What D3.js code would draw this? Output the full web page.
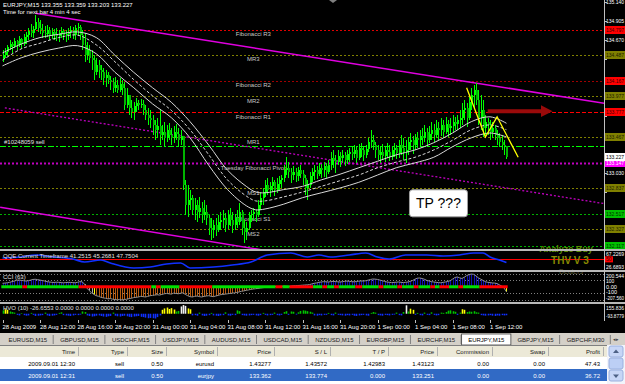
<!DOCTYPE html>
<html>
<head>
<meta charset="utf-8">
<script src="https://cdn.jsdelivr.net/npm/d3@7"></script>
<style>
  body { margin: 0; background: #d4d0c8; }
  svg { display: block; font-family: 'Liberation Sans', Arial, sans-serif; }
</style>
</head>
<body>
<div class="container"></div>
<script>
// ---- price bars (EURJPY M15, one value per bar) ----
const firstOpen = 134.44;
const highs = [
  134.55,134.57,134.61,134.67,134.65,134.70,134.67,134.72,134.70,134.74,
  134.77,134.82,134.87,134.84,134.98,134.94,134.92,134.87,134.84,134.86,
  134.83,134.82,134.81,134.82,134.79,134.83,134.81,134.79,134.82,134.84,
  134.83,134.86,134.88,134.86,134.79,134.76,134.65,134.61,134.55,134.48,
  134.45,134.42,134.36,134.32,134.30,134.27,134.23,134.20,134.21,134.18,
  134.20,134.18,134.15,134.08,133.95,133.93,133.90,133.95,133.93,133.94,
  133.93,133.87,133.83,133.80,133.74,133.68,133.71,133.80,133.62,133.66,
  133.62,133.64,133.58,133.61,133.63,133.58,133.56,133.48,132.94,132.88,
  132.82,132.75,132.72,132.69,132.73,132.67,132.69,132.63,132.51,132.47,
  132.44,132.47,132.51,132.54,132.57,132.53,132.57,132.59,132.54,132.52,
  132.57,132.65,132.57,132.44,132.42,132.54,132.57,132.59,132.57,132.69,
  132.79,132.84,132.94,132.96,132.91,132.98,132.94,132.96,132.99,133.00,
  133.12,133.22,133.16,133.09,133.11,133.09,133.10,133.12,133.06,133.00,
  132.94,133.04,133.09,133.12,133.11,133.15,133.14,133.16,133.15,133.19,
  133.28,133.31,133.25,133.31,133.28,133.31,133.28,133.31,133.33,133.36,
  133.37,133.35,133.38,133.40,133.36,133.37,133.46,133.56,133.50,133.41,
  133.37,133.35,133.38,133.36,133.40,133.37,133.35,133.40,133.37,133.43,
  133.50,133.46,133.43,133.47,133.52,133.48,133.51,133.53,133.56,133.58,
  133.62,133.58,133.61,133.66,133.63,133.68,133.66,133.71,133.68,133.72,
  133.68,133.71,133.74,133.72,133.74,133.80,133.89,133.93,133.89,133.96,
  134.08,134.11,134.14,134.05,133.99,133.93,133.74,133.71,133.68,133.66,
  133.62,133.56,133.52,133.50,133.43,133.359
];
const lows = [
  134.40,134.45,134.47,134.55,134.51,134.57,134.55,134.58,134.56,134.60,
  134.62,134.67,134.71,134.70,134.79,134.77,134.74,134.70,134.70,134.71,
  134.67,134.68,134.67,134.66,134.65,134.70,134.67,134.65,134.67,134.70,
  134.68,134.67,134.72,134.67,134.55,134.40,134.42,134.39,134.30,134.18,
  134.24,134.20,134.18,134.11,134.09,134.13,134.05,134.02,134.03,134.02,
  134.03,133.99,133.80,133.83,133.74,133.71,133.68,133.78,133.80,133.83,
  133.74,133.68,133.62,133.58,133.50,133.43,133.46,133.37,133.43,133.35,
  133.41,133.43,133.37,133.40,133.43,133.35,133.37,132.82,132.51,132.48,
  132.57,132.51,132.44,132.42,132.47,132.41,132.44,132.38,132.26,132.20,
  132.22,132.25,132.30,132.32,132.34,132.30,132.33,132.37,132.28,132.32,
  132.34,132.38,132.26,132.16,132.20,132.32,132.42,132.44,132.42,132.48,
  132.57,132.63,132.73,132.75,132.73,132.79,132.74,132.78,132.82,132.84,
  132.91,133.00,132.96,132.90,132.94,132.91,132.93,132.96,132.88,132.75,
  132.69,132.84,132.91,132.94,132.95,132.99,132.96,132.98,132.96,133.01,
  133.06,133.09,133.02,133.12,133.10,133.15,133.11,133.14,133.16,133.19,
  133.21,133.15,133.19,133.22,133.17,133.21,133.28,133.33,133.31,133.21,
  133.19,133.15,133.19,133.16,133.21,133.17,133.19,133.22,133.20,133.21,
  133.25,133.19,133.15,133.25,133.31,133.26,133.31,133.33,133.36,133.37,
  133.41,133.35,133.40,133.43,133.41,133.46,133.43,133.48,133.46,133.51,
  133.47,133.50,133.53,133.56,133.56,133.58,133.62,133.68,133.59,133.68,
  133.80,133.83,133.87,133.62,133.56,133.47,133.50,133.50,133.43,133.46,
  133.43,133.37,133.35,133.31,133.25,133.203
];
const closes = [
  134.48,134.52,134.58,134.62,134.60,134.66,134.61,134.68,134.62,134.71,
  134.73,134.78,134.76,134.81,134.89,134.82,134.79,134.76,134.74,134.79,
  134.73,134.77,134.74,134.72,134.76,134.78,134.73,134.74,134.77,134.79,
  134.73,134.82,134.83,134.73,134.61,134.48,134.55,134.45,134.42,134.27,
  134.36,134.30,134.27,134.20,134.24,134.18,134.15,134.08,134.11,134.05,
  134.13,134.08,133.87,133.99,133.83,133.78,133.85,133.89,133.87,133.88,
  133.80,133.74,133.71,133.68,133.62,133.56,133.61,133.50,133.53,133.46,
  133.56,133.50,133.46,133.53,133.51,133.43,133.48,132.88,132.63,132.69,
  132.72,132.57,132.63,132.54,132.59,132.51,132.54,132.47,132.34,132.32,
  132.38,132.32,132.42,132.44,132.47,132.38,132.51,132.44,132.38,132.47,
  132.42,132.54,132.34,132.30,132.34,132.51,132.52,132.54,132.51,132.63,
  132.72,132.79,132.88,132.82,132.86,132.91,132.82,132.89,132.94,132.96,
  133.06,133.09,133.04,133.00,133.04,132.99,133.06,133.01,132.96,132.84,
  132.88,132.99,133.04,133.06,133.01,133.09,133.06,133.11,133.04,133.12,
  133.21,133.19,133.16,133.24,133.21,133.25,133.19,133.26,133.28,133.26,
  133.31,133.21,133.33,133.31,133.25,133.32,133.41,133.43,133.37,133.31,
  133.25,133.28,133.24,133.31,133.28,133.22,133.31,133.33,133.27,133.37,
  133.33,133.28,133.31,133.41,133.43,133.37,133.46,133.43,133.48,133.46,
  133.53,133.43,133.51,133.56,133.50,133.58,133.56,133.62,133.53,133.63,
  133.58,133.61,133.66,133.63,133.68,133.71,133.80,133.83,133.71,133.90,
  133.99,134.05,133.93,133.71,133.80,133.58,133.66,133.62,133.53,133.58,
  133.50,133.46,133.41,133.37,133.355,133.227
];

// ---- envelope bands (sampled at bar indexes) ----
const bandIdx = [0,8,16,24,32,40,48,56,64,72,80,88,96,104,108,112,120,128,136,144,152,160,168,176,184,192,200,208,215];
const bandUpper = [134.51,134.62,134.70,134.74,134.77,134.70,134.48,134.27,134.08,133.90,133.66,133.37,133.06,132.86,132.79,132.78,132.82,132.86,132.94,133.01,133.09,133.17,133.25,133.31,133.40,133.52,133.66,133.72,133.64];
const bandMid   = [134.42,134.56,134.63,134.70,134.73,134.61,134.40,134.18,133.98,133.80,133.56,133.25,132.94,132.74,132.68,132.68,132.73,132.79,132.86,132.93,133.00,133.09,133.16,133.22,133.31,133.43,133.56,133.62,133.56];
const bandLower = [134.35,134.45,134.52,134.57,134.60,134.50,134.27,134.08,133.88,133.71,133.46,133.12,132.82,132.62,132.57,132.58,132.64,132.72,132.78,132.84,132.91,133.00,133.09,133.15,133.22,133.35,133.46,133.52,133.47];

// ---- pivot levels ----
const levelNames = ['Fibonacci R3','MR3','Fibonacci R2','MR2','Fibonacci R1','MR1','Tuesday  Fibonacci Pivot','MS1','Fibonacci S1','MS2','Fibonacci S2'];
const levelPrices = [134.797,134.487,134.167,133.977,133.777,133.467,133.147,132.837,132.517,132.327,132.117];
const orderPrice = 133.362;
const orderLabel = '#10248059 sell';
const bidPrice = 133.227;
const priceTicks = ['135.140','134.905','134.670','134.440','134.200','133.965','133.730','133.495','133.260','133.030','132.795','132.560','132.325','132.090'];

// ---- drawn objects ----
const upperTrend = [[14, 135.00], [257, 133.885]];
const midTrend = [[1, 133.83], [257, 132.645]];
const lowerTrend = [[-1, 132.60], [120, 132.03]];
const zigIdx = [198, 206, 211, 220];
const zigPrice = [134.08, 133.47, 133.72, 133.22];
const arrowIdx = [207, 234];
const arrowPrice = 133.79;
const noteBar = 186, notePrice = 132.65, noteText = 'TP ???';

// ---- QQE ----
const qqeIdx = [0,8,14,22,30,35,42,46,56,63,70,76,80,90,98,106,113,123,130,135,140,148,155,160,165,172,181,188,195,201,205,208,212,215];
const qqeVals = [53.7,56.4,61.8,56.4,51.0,42.9,48.3,40.2,26.7,29.4,37.5,40.2,26.7,29.4,34.8,42.9,61.8,67.2,56.4,61.8,56.4,61.8,67.2,56.4,51.0,61.8,61.8,59.1,61.8,67.2,67.2,56.4,48.3,41.25];
const qqeLevel = 50;
const qqeRange = [26.6893, 67.2269];

// ---- CCI (63) ----
const cci = [
  55,58,62,70, 80,90,100,107,100,95,90, 95,105,115,118,112,105,98,90,
  80,75,70,68,72,70,65,62,66,70,68,65,62,70, 80,78,
  40,-20,-60,-95,-120,-140,-150,
  -165,-175,-180,-190,-185,-195,-200,-205,-198,-207,-200,-195,
  -185,-180,-170,-165,-160,-150,-155,-160,-150,-140,-135,-130,-125,-130,-120,-110,-105,-110,-115,-100,-105,-110,-100,-95,
  -120,-140,-155,-160,-150,-145,-155,-160,-150,-145,-140,-150,-155,-145,-135,
  -125,-120,-115,-110,-105,-100,-95,-90,-80,-70,-65,-55,-50,-40,-35,-30,-25,-20,
  -15,-10,-5,-5,0,5,5,0,5,10,8,5,10,15,18,20,22,
  25,28,30,35,45,55,
  60,70,75,80,78,75,80,85,82,78,75,80,85,90,85,80,78,82,88,92,90,95,
  105,115,122,120,115,105,95,
  85,75,70,65,68,72,75,70,65,70,75,85,100,
  120,135,138,130,118,100,90,
  80,75,70,65,62,70,75,85,95,
  120,145,154,140, 130,150,175,190, 200,195,170,140, 120,100,80,
  70,65,60,58,50, 30,10,-20,-80
];
const cciRange = [-207.56, 200.544];
const cciGrayIdx = [35,36,37,38,214];
const cciYellowIdx = [39,215];
// trend strip: [first bar, last bar, 1 = up]
const cciTrend = [[0,8,1],[9,10,0],[11,32,1],[33,63,0],[64,65,1],[66,67,0],[68,75,1],[76,89,0],[90,116,1],[117,119,0],[120,122,1],[123,132,0],[133,136,1],[137,138,0],[139,141,1],[142,143,0],[144,150,1],[151,153,0],[154,160,1],[161,162,0],[163,168,1],[169,170,0],[171,175,1],[176,177,0],[178,182,1],[183,184,0],[185,186,1],[187,190,0],[191,194,1],[195,196,0],[197,203,1],[204,215,0]];

// ---- HVO (10) ----
const hvo = [
  60,80,70,40,30,20,
  -20,-30,10,-25,-35,-30,15,-20,-40,-35,-30,-25,20,-30,-40,-35,-30,-20,15,25,-25,-30,-35,-40,-30,-20,-25,-15,
  40,30,
  -30,-40,-50,-45,-35,-30,-40,-50,-55,-45,-40,20,-35,-45,-50,-40,-35,-45,-55,-60,-50,-45,-40,-55,-60,-70,-80,-75,
  -80,-85,-60,-30,
  70,95,110,85,100,75,
  40,50, 130,155,140, 95,80,
  -30,-25,-35,20,-30,-40,-35,-25,15,-30,-35,-40,-30,-25,25,-30,-35,-20,-25,
  60,45,
  -25,-30,-35,-30,-25,-20,-30,-35,-25,15,-20,-30,-25,-20,20,-25,-30,-20,30,45,-20,40,35,-15,25,
  50,60,55,45,35,20,
  -30,-35,-25,-30,-20,
  -20,15,-25,-30,20,-20,-25,-30,-35,-25,-30,-20,-35,-40,-30,-25,-20,-30,-35,15,30,20,-25,-30,-35,-20,-25,-30,-20,-15,20,-25,-30,30,
  150, 40,90,70,
  -20,15,-25,-30,20,-20,-25,25,-20,-30,-25,20,15,30,
  55,60,45,35, -20,20, 80,70,
  30,40,35,45,25,20,
  -25,-30,-35,-30,-25,-35,-40,-30,-35,-25,-30,-26.66
];
const hvoRange = [-93.8779, 155.836];

// ---- time axis ----
const timeTicks = [0,16,32,48,64,80,96,112,128,144,160,176,192,208];
const timeLabels = ['28 Aug 2009','28 Aug 12:00','28 Aug 16:00','28 Aug 20:00','31 Aug 00:00','31 Aug 04:00','31 Aug 08:00','31 Aug 12:00','31 Aug 16:00','31 Aug 20:00','1 Sep 00:00','1 Sep 04:00','1 Sep 08:00','1 Sep 12:00'];

// ---- terminal ----
const tabNames = ['EURUSD,M15','GBPUSD,M15','USDCHF,M15','USDJPY,M15','AUDUSD,M15','USDCAD,M15','NZDUSD,M15','EURGBP,M15','EURCHF,M15','EURJPY,M15','GBPJPY,M15','GBPCHF,M30'];
const activeTab = 'EURJPY,M15';
const columns = ['Time','Type','Size','Symbol','Price','S / L','T / P','Price','Commission','Swap','Profit'];
const trades = [
  ['2009.09.01 12:30','sell','0.50','eurusd','1.43277','1.43572','1.42983','1.43123','0.00','0.00','47.43'],
  ['2009.09.01 12:31','sell','0.50','eurjpy','133.362','133.774','0.000','133.251','0.00','0.00','36.72']
];

// ================= drawing =================
const W = 625, H = 384;
const plotRight = 604;
const panel = {
  main: [0, 249],
  qqe: [251, 270],
  cci: [272, 302],
  hvo: [304, 320]
};

const svg = d3.select('.container').append('svg').attr('width', W).attr('height', H);
svg.append('rect').attr('width', W).attr('height', 333).attr('fill', '#000');

const defs = svg.append('defs');
Object.keys(panel).forEach(k => {
  defs.append('clipPath').attr('id', 'clip-' + k)
    .append('rect').attr('x', 0).attr('y', panel[k][0])
    .attr('width', plotRight).attr('height', panel[k][1] - panel[k][0]);
});

const x = d3.scaleLinear().domain([0, 257]).range([2.5, 2.5 + 257 * 2.344]);
const y = d3.scaleLinear().domain([132.09, 135.14]).range([248.6, 2]);
const px = i => Math.round(x(i)) + 0.5;

// right axis text: squeezed so it fits the 20px strip
const axisText = (g, yPos, txt, color, size) => g.append('text')
  .attr('x', 606).attr('y', yPos).attr('font-size', size || 5.5).attr('fill', color || '#fff')
  .attr('textLength', Math.min(18, txt.length * 2.75)).attr('lengthAdjust', 'spacingAndGlyphs')
  .text(txt);

const main = svg.append('g').attr('clip-path', 'url(#clip-main)');

const levelStyle = name => {
  if (name === 'Fibonacci R3') return { c: '#e00000', d: '2,2', box: '#ff0000', t: '#400000' };
  if (name === 'Fibonacci R2') return { c: '#a00000', d: '2,2', box: '#ff0000', t: '#400000' };
  if (name === 'Fibonacci R1') return { c: '#ff0000', d: '4,2', box: '#ff0000', t: '#400000' };
  if (name.indexOf('Pivot') >= 0) return { c: '#c000c0', d: '2,2', w: 2, box: '#ff00ff', t: '#ffffff' };
  if (name.indexOf('Fibonacci S') === 0) return { c: '#00b000', d: '2,2', box: '#00c000', t: '#003000' };
  return { c: '#808000', d: '2,2', box: '#808000', t: '#202000' };
};

// level lines
main.selectAll('line.level').data(levelNames).enter().append('line')
  .attr('x1', 0).attr('x2', plotRight)
  .attr('y1', (d, i) => Math.round(y(levelPrices[i])) + 0.5)
  .attr('y2', (d, i) => Math.round(y(levelPrices[i])) + 0.5)
  .attr('stroke', d => levelStyle(d).c)
  .attr('stroke-width', d => levelStyle(d).w || 1)
  .attr('stroke-dasharray', d => levelStyle(d).d);

main.append('line')
  .attr('x1', 0).attr('x2', plotRight)
  .attr('y1', Math.round(y(orderPrice)) + 0.5).attr('y2', Math.round(y(orderPrice)) + 0.5)
  .attr('stroke', '#00ff00').attr('stroke-dasharray', '6,2,2,2');

// trend lines
const trendLine = d3.line().x(d => x(d[0])).y(d => y(d[1]));
main.append('path').attr('d', trendLine(upperTrend)).attr('stroke', '#e000e0').attr('stroke-width', 1.5).attr('fill', 'none');
main.append('path').attr('d', trendLine(midTrend)).attr('stroke', '#c000c0').attr('stroke-width', 1.3).attr('stroke-dasharray', '2,2').attr('fill', 'none');
main.append('path').attr('d', trendLine(lowerTrend)).attr('stroke', '#e000e0').attr('stroke-width', 1.5).attr('fill', 'none');

// level captions
main.selectAll('text.level').data(levelNames).enter().append('text')
  .attr('x', x(107)).attr('y', (d, i) => y(levelPrices[i]) + 6.5)
  .attr('text-anchor', 'middle').attr('font-size', 6).attr('fill', '#c8c8c8')
  .text(d => d);

main.append('text').attr('x', 4).attr('y', y(orderPrice) - 1.5)
  .attr('font-size', 6).attr('fill', '#e0e0e0').text(orderLabel);

// candles
const bars = closes.map((c, i) => ({
  i, open: i ? closes[i - 1] : firstOpen, high: highs[i], low: lows[i], close: c
}));
const candle = main.selectAll('g.bar').data(bars).enter().append('g')
  .attr('shape-rendering', 'crispEdges');
candle.append('rect')
  .attr('x', d => Math.round(x(d.i))).attr('width', 1)
  .attr('y', d => y(Math.max(d.high, d.open, d.close)))
  .attr('height', d => y(Math.min(d.low, d.open, d.close)) - y(Math.max(d.high, d.open, d.close)))
  .attr('fill', '#00ff00');
candle.append('rect')
  .attr('x', d => Math.round(x(d.i)) - 0.5).attr('width', 2)
  .attr('y', d => y(Math.max(d.open, d.close)))
  .attr('height', d => Math.max(1, Math.abs(y(d.open) - y(d.close))))
  .attr('fill', d => d.close >= d.open ? '#00ff00' : '#00b400');

// envelope bands
const bandLine = vals => d3.line().x((d, k) => x(bandIdx[k])).y(d => y(d)).curve(d3.curveCatmullRom)(vals);
main.append('path').attr('d', bandLine(bandUpper)).attr('stroke', '#d8d8d8').attr('fill', 'none');
main.append('path').attr('d', bandLine(bandMid)).attr('stroke', '#d8d8d8').attr('stroke-dasharray', '3,2').attr('fill', 'none');
main.append('path').attr('d', bandLine(bandLower)).attr('stroke', '#d8d8d8').attr('fill', 'none');

// yellow zigzag
main.append('path')
  .attr('d', d3.line().x((d, k) => x(zigIdx[k])).y(d => y(d))(zigPrice))
  .attr('stroke', '#ffff00').attr('stroke-width', 1.3).attr('fill', 'none');

// red arrow
defs.append('marker').attr('id', 'arrowHead')
  .attr('viewBox', '0 0 10 10').attr('refX', 2).attr('refY', 5)
  .attr('markerWidth', 3).attr('markerHeight', 3).attr('orient', 'auto')
  .append('path').attr('d', 'M0,0 L10,5 L0,10 z').attr('fill', '#9a0a0a');
main.append('line')
  .attr('x1', x(arrowIdx[0])).attr('x2', x(arrowIdx[1]) - 8)
  .attr('y1', y(arrowPrice)).attr('y2', y(arrowPrice))
  .attr('stroke', '#9a0a0a').attr('stroke-width', 4)
  .attr('marker-end', 'url(#arrowHead)');

// TP note
const note = main.append('g').attr('transform', `translate(${x(noteBar)}, ${y(notePrice)})`);
note.append('rect').attr('x', -29).attr('y', -13.5).attr('width', 58).attr('height', 27)
  .attr('rx', 3).attr('fill', '#ffffff').attr('stroke', '#a0a0a0');
note.append('text').attr('y', 5).attr('text-anchor', 'middle')
  .attr('font-size', 14).attr('fill', '#000').text(noteText);

// header texts
svg.append('text').attr('x', 3).attr('y', 7).attr('font-size', 6).attr('fill', '#fff')
  .text(`EURJPY,M15  ${closes[214].toFixed(3)} ${highs[215].toFixed(3)} ${lows[215].toFixed(3)} ${closes[215].toFixed(3)}`);
svg.append('text').attr('x', 3).attr('y', 14).attr('font-size', 6).attr('fill', '#fff')
  .text('Time for next bar 4 min 4 sec');
svg.append('path').attr('d', 'M329,0 L337,0 L333,3 z').attr('fill', '#808080');

// ---- price axis ----
const axisG = svg.append('g');
const tagPrices = levelPrices.concat([bidPrice]);
priceTicks.forEach(t => {
  const yy = Math.round(y(+t)) + 0.5;
  axisG.append('line').attr('x1', plotRight).attr('x2', plotRight + 3)
    .attr('y1', yy).attr('y2', yy).attr('stroke', '#c0c0c0');
  // labels hidden under a price tag are not drawn
  if (tagPrices.some(p => Math.abs(y(p) - y(+t)) < 7)) return;
  axisText(axisG, Math.min(y(+t) + 2, 247), t);
});

const tag = (price, fill, color) => {
  const yy = Math.round(y(price));
  axisG.append('rect').attr('x', 605).attr('y', yy - 4).attr('width', 20).attr('height', 8).attr('fill', fill);
  axisText(axisG, yy + 2.2, price.toFixed(3), color);
};
levelNames.forEach((n, i) => tag(levelPrices[i], levelStyle(n).box, levelStyle(n).t));
tag(bidPrice, '#ffffff', '#000000');

// ---- QQE panel ----
const yq = d3.scaleLinear().domain(qqeRange).range([268, 253]);
const qqeG = svg.append('g').attr('clip-path', 'url(#clip-qqe)');
qqeG.append('line').attr('x1', 0).attr('x2', plotRight)
  .attr('y1', Math.round(yq(qqeLevel)) + 0.5).attr('y2', Math.round(yq(qqeLevel)) + 0.5)
  .attr('stroke', '#ff0000');
qqeG.append('path')
  .attr('d', d3.line().x((d, k) => x(qqeIdx[k])).y(d => yq(d)).curve(d3.curveMonotoneX)(qqeVals))
  .attr('stroke', '#1030ff').attr('stroke-width', 1.6).attr('fill', 'none');
svg.append('text').attr('x', 3).attr('y', 258).attr('font-size', 6).attr('fill', '#e0e0e0')
  .text('QQE Current Timeframe 41.2515 45.2681 47.7504');

// watermark text
svg.append('text').attr('x', 566).attr('y', 252).attr('text-anchor', 'middle')
  .attr('font-size', 9).attr('font-weight', 'bold').attr('fill', '#5a8a00').text('Analyze Buy');
svg.append('text').attr('x', 570).attr('y', 264).attr('text-anchor', 'middle')
  .attr('font-size', 10).attr('font-weight', 'bold').attr('fill', '#8a8a00').text('THV V 3');
svg.append('text').attr('x', 571).attr('y', 274).attr('text-anchor', 'middle')
  .attr('font-size', 7).attr('fill', '#555533').text('Dealers');

axisText(svg, 255.5, qqeRange[1].toFixed(4), '#fff', 5);
axisText(svg, 268.5, qqeRange[0].toFixed(4), '#fff', 5);
svg.append('rect').attr('x', 605).attr('y', yq(qqeLevel) - 3).attr('width', 8).attr('height', 6).attr('fill', '#ff0000');
svg.append('text').attr('x', 606).attr('y', yq(qqeLevel) + 2).attr('font-size', 5).attr('fill', '#400000').text(qqeLevel);

// ---- CCI panel ----
const yc = d3.scaleLinear().domain(cciRange).range([300, 274]);
const cciG = svg.append('g').attr('clip-path', 'url(#clip-cci)');
[200, 100, -100, -200].forEach(v => {
  cciG.append('line').attr('x1', 0).attr('x2', plotRight)
    .attr('y1', Math.round(yc(v)) + 0.5).attr('y2', Math.round(yc(v)) + 0.5)
    .attr('stroke', '#808080').attr('stroke-dasharray', '1,2');
});
cciG.selectAll('line.h').data(cci).enter().append('line')
  .attr('x1', (d, i) => px(i)).attr('x2', (d, i) => px(i))
  .attr('y1', yc(0)).attr('y2', d => yc(d))
  .attr('stroke', (d, i) => cciYellowIdx.includes(i) ? '#ffff00' : cciGrayIdx.includes(i) ? '#b0b0b0' : d >= 0 ? '#1010b0' : '#b85c10');
cciG.append('path')
  .attr('d', d3.line().x((d, i) => x(i)).y(d => yc(d))(cci))
  .attr('stroke', '#909090').attr('fill', 'none');
cciG.selectAll('rect.trend').data(cciTrend).enter().append('rect')
  .attr('x', d => x(d[0]) - 1.2).attr('width', d => x(d[1]) - x(d[0]) + 2.4)
  .attr('y', yc(0) - 1.5).attr('height', 3)
  .attr('fill', d => d[2] ? '#00e000' : '#ff0000');
svg.append('text').attr('x', 3).attr('y', 279).attr('font-size', 6).attr('fill', '#e0e0e0').text('CCI (63)');
[[cciRange[1], cciRange[1].toFixed(3), 277.5], [100, '100', 283], [0, '0.00', 288.5], [-100, '-100', 294], [cciRange[0], cciRange[0].toFixed(3), 300]]
  .forEach(t => axisText(svg, t[2], t[1], '#fff', 5));

// ---- HVO panel ----
const yh = d3.scaleLinear().domain(hvoRange).range([319, 305]);
const hvoG = svg.append('g').attr('clip-path', 'url(#clip-hvo)');
hvoG.selectAll('rect').data(hvo).enter().append('rect')
  .attr('x', (d, i) => px(i) - 0.8).attr('width', 1.6)
  .attr('y', d => Math.min(yh(0), yh(d)))
  .attr('height', d => Math.abs(yh(d) - yh(0)))
  .attr('fill', d => d > 110 ? '#f0f0f0' : d > 60 ? '#ffff00' : d > 0 ? '#00c800' : '#1030ff');
svg.append('text').attr('x', 3).attr('y', 310).attr('font-size', 6).attr('fill', '#e0e0e0')
  .text('HVO (10) -26.6553 0.0000 0.0000 0.0000 0.0000');
axisText(svg, 309.5, hvoRange[1].toFixed(3), '#fff', 5);
axisText(svg, 317.5, hvoRange[0].toFixed(4), '#fff', 5);

// separators
[[249, 2], [270, 2], [302, 2]].forEach(s => {
  svg.append('rect').attr('x', 0).attr('y', s[0]).attr('width', W).attr('height', s[1]).attr('fill', '#b8b8b8');
});
svg.append('line').attr('x1', plotRight + 0.5).attr('x2', plotRight + 0.5).attr('y1', 0).attr('y2', 321).attr('stroke', '#c0c0c0');

// ---- time axis ----
const timeG = svg.append('g');
timeG.selectAll('text').data(timeLabels).enter().append('text')
  .attr('x', (d, k) => x(timeTicks[k])).attr('y', 329)
  .attr('font-size', 6).attr('fill', '#fff').text(d => d);
timeG.selectAll('line').data(timeTicks).enter().append('line')
  .attr('x1', d => px(d)).attr('x2', d => px(d)).attr('y1', 320).attr('y2', 323)
  .attr('stroke', '#c0c0c0');

// ---- terminal tabs ----
svg.append('rect').attr('y', 333).attr('width', W).attr('height', 12).attr('fill', '#d4d0c8');
let tx = 2;
tabNames.forEach(name => {
  const g = svg.append('g').attr('transform', `translate(${tx}, 333)`);
  const bg = g.append('rect').attr('y', 1).attr('height', 11);
  const t = g.append('text').attr('x', 6.5).attr('y', 8.5).attr('font-size', 6).attr('fill', '#202020').text(name);
  const w = t.node().getComputedTextLength() + 13;
  if (name === activeTab) {
    bg.attr('width', w).attr('fill', '#fff').attr('stroke', '#404040').attr('stroke-width', 0.8);
    t.attr('fill', '#000');
  } else {
    bg.attr('width', w).attr('fill', 'none');
    g.append('line').attr('x1', w - 0.5).attr('x2', w - 0.5).attr('y1', 2).attr('y2', 11).attr('stroke', '#808080');
  }
  tx += w;
});
svg.append('text').attr('x', 613).attr('y', 341).attr('font-size', 5).attr('fill', '#404040').text('◂▸');

// ---- trade table ----
const colRight = [75, 124, 163, 214, 271, 327, 385, 434, 489, 545, 600];
svg.append('rect').attr('y', 345).attr('width', W).attr('height', 12).attr('fill', '#ece9d8');
svg.append('line').attr('x1', 0).attr('x2', W).attr('y1', 345.5).attr('y2', 345.5).attr('stroke', '#808080');
colRight.forEach(c => {
  svg.append('line').attr('x1', c + 3.5).attr('x2', c + 3.5).attr('y1', 347).attr('y2', 356).attr('stroke', '#b0b0b0');
});
svg.selectAll('text.col').data(columns).enter().append('text')
  .attr('x', (d, k) => colRight[k]).attr('y', 353.5).attr('text-anchor', 'end')
  .attr('font-size', 6).attr('fill', '#202020').text(d => d);

const rowFill = ['#ffffff', '#316ac5'];
const rowText = ['#000000', '#ffffff'];
trades.forEach((row, r) => {
  const top = 357 + r * 12;
  svg.append('rect').attr('y', top).attr('width', 607).attr('height', 12).attr('fill', rowFill[r]);
  row.forEach((v, k) => {
    svg.append('text').attr('x', colRight[k]).attr('y', top + 8.5).attr('text-anchor', 'end')
      .attr('font-size', 6).attr('fill', rowText[r]).text(v);
  });
});
svg.append('rect').attr('y', 381).attr('width', 607).attr('height', 3).attr('fill', '#ffffff');

// scrollbar
svg.append('rect').attr('x', 607).attr('y', 345).attr('width', 18).attr('height', 39).attr('fill', '#f2f4fb');
[[346, 'M613,353 L616,349.5 L619,353 z'], [370, 'M613,374.5 L616,378 L619,374.5 z']].forEach(b => {
  svg.append('rect').attr('x', 609).attr('y', b[0]).attr('width', 14).attr('height', 11)
    .attr('rx', 2).attr('fill', '#c7d6f6').attr('stroke', '#9ab0de');
  svg.append('path').attr('d', b[1]).attr('fill', '#4d6185');
});
svg.append('rect').attr('x', 609).attr('y', 358).attr('width', 14).attr('height', 11)
  .attr('rx', 2).attr('fill', '#bccff5').attr('stroke', '#9ab0de');
</script>
</body>
</html>
